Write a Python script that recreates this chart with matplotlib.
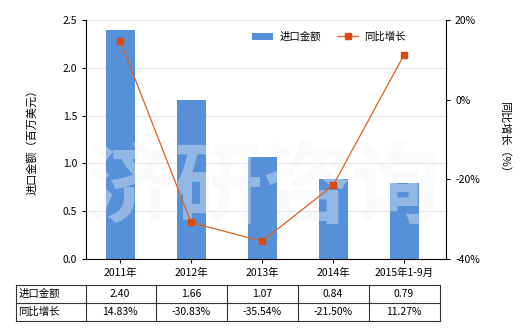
import numpy as np
import matplotlib
matplotlib.use('Agg')
import matplotlib.pyplot as plt
from matplotlib.lines import Line2D
from matplotlib.transforms import blended_transform_factory

plt.rcParams['font.family'] = ['Noto Sans CJK SC', 'DejaVu Sans']
plt.rcParams['axes.unicode_minus'] = False

categories = ['2011年', '2012年', '2013年', '2014年', '2015年1-9月']
amounts = [2.40, 1.66, 1.07, 0.84, 0.79]
growth = [14.83, -30.83, -35.54, -21.50, 11.27]
amount_labels = ['2.40', '1.66', '1.07', '0.84', '0.79']
growth_labels = ['14.83%', '-30.83%', '-35.54%', '-21.50%', '11.27%']
row_labels = ['进口金额', '同比增长']

bar_color = '#5590d8'
line_color = '#e0601e'
fs = 7.5

fig = plt.figure(figsize=(5.2, 3.3), dpi=100)
ax = fig.add_axes([86/520, 1 - 259/330, 360/520, 239/330])
ind = np.arange(len(categories))

ax.bar(ind, amounts, 0.41, color=bar_color, zorder=2, label='进口金额')
ax.set_xlim(-0.48, 4.59)
ax.set_ylim(0, 2.5)
ax.set_yticks([0, 0.5, 1.0, 1.5, 2.0, 2.5])
ax.set_yticklabels(['0.0', '0.5', '1.0', '1.5', '2.0', '2.5'], fontsize=fs)
ax.yaxis.grid(True, color='#e4e4e4', lw=0.8, zorder=0)
ax.set_xticks(ind)
ax.set_xticklabels(categories, fontsize=fs)
ax.tick_params(axis='both', length=3, width=0.8)
for s in ['top', 'right']:
    ax.spines[s].set_visible(False)
ax.set_ylabel('进口金额（百万美元）', fontsize=fs + 0.5, labelpad=18)

# faint watermark
ax.text(0.49, 0.29, '济研咨询', transform=ax.transAxes, fontsize=64, color='#f2f4f7',
        alpha=0.4, ha='center', va='center', zorder=3, fontweight='bold')

ax2 = ax.twinx()
ax2.plot(ind, growth, color=line_color, lw=0.9, marker='s', ms=4,
         mfc='#dd4a10', mec='#dd4a10', zorder=4, label='同比增长')
ax2.set_ylim(-40, 20)
ax2.set_yticks([-40, -20, 0, 20])
ax2.set_yticklabels(['-40%', '-20%', '0%', '20%'], fontsize=fs)
ax2.tick_params(axis='y', length=3, width=0.8)
for s in ['top', 'left', 'bottom']:
    ax2.spines[s].set_visible(False)
ax2.set_ylabel('同比增长（%）', fontsize=fs + 0.5, rotation=270, labelpad=22)

h1, l1 = ax.get_legend_handles_labels()
h2, l2 = ax2.get_legend_handles_labels()
ax2.legend(h1 + h2, l1 + l2, loc='upper right', bbox_to_anchor=(0.915, 0.99), ncol=2,
           frameon=False, fontsize=fs, handlelength=2.0, handletextpad=0.6,
           columnspacing=1.6)

# data table under the chart: x in data units, y in figure fraction
tr = blended_transform_factory(ax.transData, fig.transFigure)
y_lines = [1 - 285/330, 1 - 303/330, 1 - 321/330]
x_left = -0.48 - 70/71
x_bounds = [x_left, -0.48] + [i + 0.5 for i in ind]
for y in y_lines:
    fig.add_artist(Line2D([x_bounds[0], x_bounds[-1]], [y, y], transform=tr,
                          color='#333333', lw=0.8))
for x in x_bounds:
    fig.add_artist(Line2D([x, x], [y_lines[0], y_lines[-1]], transform=tr,
                          color='#333333', lw=0.8))
rows = [amount_labels, growth_labels]
for r, vals in enumerate(rows):
    yc = (y_lines[r] + y_lines[r + 1]) / 2
    fig.text(x_left + 0.03, yc, row_labels[r], transform=tr, fontsize=fs,
             ha='left', va='center')
    for i, v in enumerate(vals):
        fig.text(ind[i], yc, v, transform=tr, fontsize=fs, ha='center', va='center')

fig.savefig('out.png', dpi=100)
